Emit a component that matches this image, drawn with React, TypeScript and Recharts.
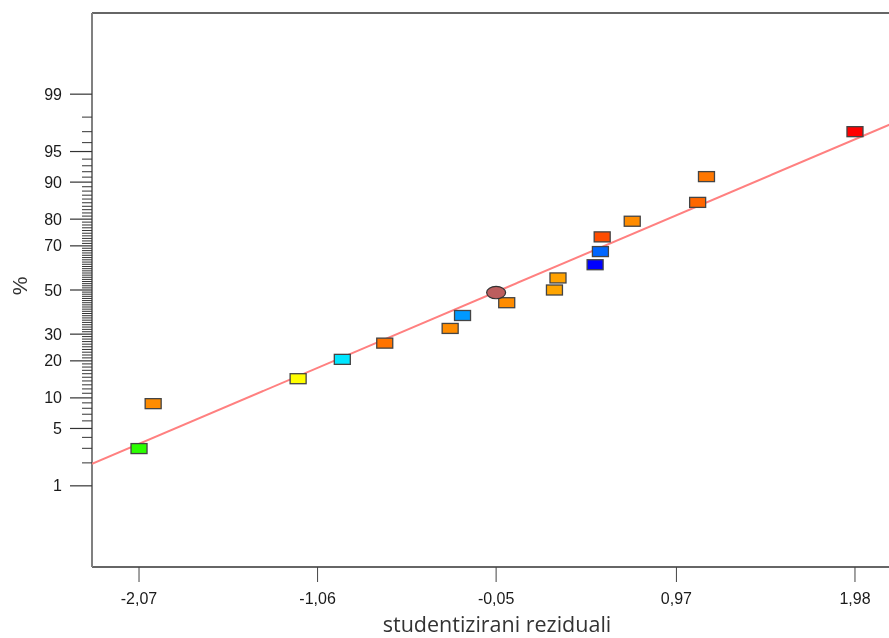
import { ScatterChart, Scatter, XAxis, YAxis, Cell, ReferenceLine } from 'recharts'

// normal probability plot of studentized residuals

const residuals = [-2.07, -1.99, -1.17, -0.92, -0.68, -0.31, -0.24, 0.01, 0.28, 0.3, 0.51, 0.54, 0.55, 0.72, 1.09, 1.14, 1.98]
const percents = [2.98, 8.85, 14.6, 20.5, 26.4, 32.4, 38.1, 44.0, 50.0, 55.7, 61.8, 67.6, 73.6, 79.3, 85.1, 91.1, 97.0]
const pointColors = [
  '#2bff00', '#ff8c00', '#ffff00', '#00e6ff', '#ff7300', '#ff8c00', '#0099ff', '#ff8c00', '#ffa500',
  '#ffa200', '#0000ff', '#0066ff', '#ff4d00', '#ff8c00', '#ff6600', '#ff7700', '#ff0000',
]

const centerResiduals = [-0.05]
const centerPercents = [48.8]

const fitResiduals = [-2.336, 2.246]
const fitPercents = [1.95, 97.87]

const xTicks = [-2.07, -1.06, -0.05, 0.97, 1.98]
const xDomain = [-2.336, 2.246]
const majorPercents = [1, 5, 10, 20, 30, 50, 70, 80, 90, 95, 99]
const tickPercents = Array.from({ length: 99 }, (_, i) => i + 1)
const rangePercents = [0.05, 99.95]

// inverse normal cdf (Acklam)
function probit(p: number) {
  const a = [-39.69683028665376, 220.9460984245205, -275.9285104469687, 138.357751867269, -30.66479806614716, 2.506628277459239]
  const b = [-54.47609879822406, 161.5858368580409, -155.6989798598866, 66.80131188771972, -13.28068155288572]
  const c = [-0.007784894002430293, -0.3223964580411365, -2.400758277161838, -2.549732539343734, 4.374664141464968, 2.938163982698783]
  const d = [0.007784695709041462, 0.3224671290700398, 2.445134137142996, 3.754408661907416]
  const pl = 0.02425
  if (p < pl) {
    const q = Math.sqrt(-2 * Math.log(p))
    return (((((c[0] * q + c[1]) * q + c[2]) * q + c[3]) * q + c[4]) * q + c[5]) / ((((d[0] * q + d[1]) * q + d[2]) * q + d[3]) * q + 1)
  }
  if (p > 1 - pl) {
    const q = Math.sqrt(-2 * Math.log(1 - p))
    return -(((((c[0] * q + c[1]) * q + c[2]) * q + c[3]) * q + c[4]) * q + c[5]) / ((((d[0] * q + d[1]) * q + d[2]) * q + d[3]) * q + 1)
  }
  const q = p - 0.5
  const r = q * q
  return (((((a[0] * r + a[1]) * r + a[2]) * r + a[3]) * r + a[4]) * r + a[5]) * q / (((((b[0] * r + b[1]) * r + b[2]) * r + b[3]) * r + b[4]) * r + 1)
}

const z = (pct: number) => probit(pct / 100)

const points = residuals.map((r, i) => ({ x: r, z: z(percents[i]) }))
const center = centerResiduals.map((r, i) => ({ x: r, z: z(centerPercents[i]) }))
const fitLine = fitResiduals.map((r, i) => ({ x: r, z: z(fitPercents[i]) }))
const yTicks = tickPercents.map(z)
const yDomain = rangePercents.map(z)

const tickFont = '"Liberation Sans", Arial, sans-serif'

const PercentTick = (props: any) => {
  const { x, y, index } = props
  const pct = tickPercents[index]
  const major = majorPercents.includes(pct)
  if (!major) {
    return <line x1={x - 10} x2={x} y1={y} y2={y} stroke="#333" strokeWidth={1} />
  }
  return (
    <g>
      <line x1={x - 22} x2={x} y1={y} y2={y} stroke="#333" strokeWidth={1.2} />
      <text x={x - 30} y={y} dy={5.5} textAnchor="end" fontSize={16} fontFamily={tickFont} fill="#1a1a1a">
        {pct}
      </text>
    </g>
  )
}

const PercentLabel = (props: any) => {
  const vb = props.viewBox
  const cy = vb.y + vb.height / 2 - 4
  return (
    <text x={11} y={cy} transform={`rotate(-90 11 ${cy})`} textAnchor="middle" dominantBaseline="central"
      fontSize={21} fontFamily={tickFont} fill="#333">
      %
    </text>
  )
}

const Box = (props: any) => (
  <rect x={props.cx - 8} y={props.cy - 5} width={16} height={10} fill={props.fill} stroke="#444" strokeWidth={1.3} />
)

const Oval = (props: any) => (
  <ellipse cx={props.cx} cy={props.cy} rx={9.5} ry={6.2} fill="#bc5e5e" stroke="#333" strokeWidth={1.2} />
)

export default function App() {
  return (
    <div style={{ position: 'fixed', left: 8, top: 8, width: 881, height: 630, overflow: 'hidden' }}>
      <ScatterChart width={910} height={630} margin={{ top: 5, right: 16, bottom: 31, left: 0 }}>
        <XAxis
          dataKey="x"
          type="number"
          domain={xDomain}
          allowDataOverflow
          ticks={xTicks}
          interval={0}
          tickFormatter={(v: number) => v.toFixed(2).replace('.', ',')}
          tickSize={15}
          tickMargin={11}
          height={40}
          axisLine={{ stroke: '#333', strokeWidth: 1.5 }}
          tickLine={{ stroke: '#444' }}
          tick={{ fontSize: 16, fill: '#1a1a1a', fontFamily: tickFont }}
          label={{ value: 'studentizirani reziduali', position: 'bottom', offset: 10, fontSize: 21.5, fill: '#333', fontFamily: '"Open Sans", sans-serif' }}
        />
        <YAxis
          dataKey="z"
          type="number"
          domain={yDomain}
          allowDataOverflow
          ticks={yTicks}
          interval={0}
          width={84}
          tickSize={0}
          tickMargin={0}
          tickLine={false}
          axisLine={{ stroke: '#808080', strokeWidth: 2 }}
          tick={PercentTick}
          label={{ value: '%', content: PercentLabel }}
        />
        <ReferenceLine y={yDomain[1]} stroke="#333" strokeWidth={1.5} ifOverflow="visible" />
        <Scatter data={fitLine} line={{ stroke: '#ff8080', strokeWidth: 2 }} shape={() => null} isAnimationActive={false} />
        <Scatter data={points} shape={Box} isAnimationActive={false}>
          {points.map((_, i) => (
            <Cell key={i} fill={pointColors[i]} />
          ))}
        </Scatter>
        <Scatter data={center} shape={Oval} isAnimationActive={false} />
      </ScatterChart>
    </div>
  )
}
